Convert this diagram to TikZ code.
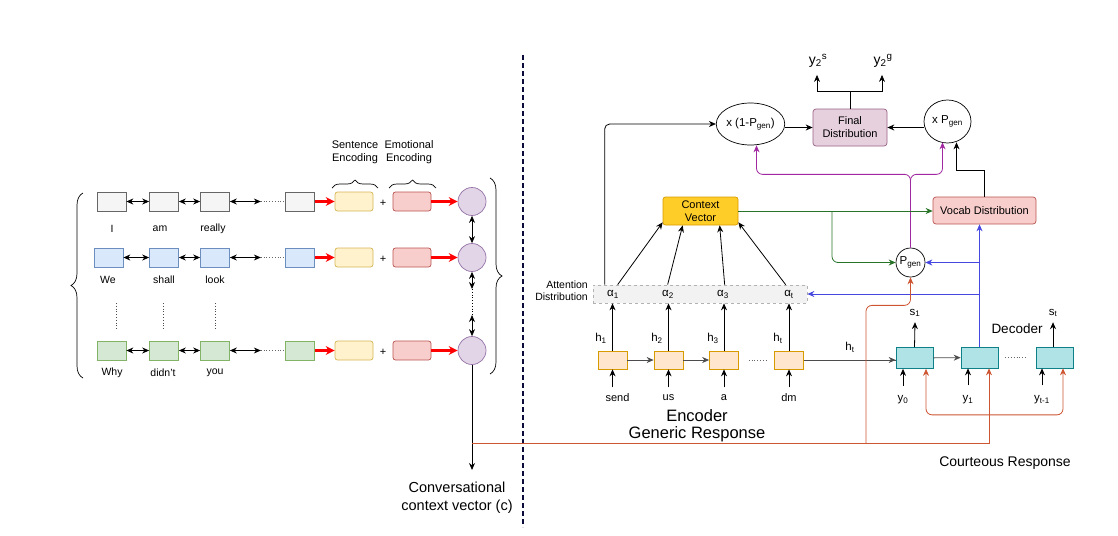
\documentclass[tikz,border=0pt]{standalone}
\usepackage{fontspec}
\setmainfont{Liberation Sans}
\usetikzlibrary{arrows.meta,decorations.pathreplacing,calc,shapes.geometric}
\definecolor{navy}{RGB}{12,12,60}
\definecolor{gfill}{HTML}{F5F5F5}\definecolor{gline}{HTML}{666666}
\definecolor{bfill}{HTML}{DAE8FC}\definecolor{bline}{HTML}{6C8EBF}
\definecolor{grfill}{HTML}{D5E8D4}\definecolor{grline}{HTML}{82B366}
\definecolor{yfill}{HTML}{FFF2CC}\definecolor{yline}{HTML}{D6B656}
\definecolor{rfill}{HTML}{F8CECC}\definecolor{rline}{HTML}{B85450}
\definecolor{pfill}{HTML}{E1D5E7}\definecolor{pline}{HTML}{9673A6}
\definecolor{efill}{HTML}{FFE6CC}\definecolor{eline}{HTML}{D79B00}
\definecolor{cfill}{HTML}{FFCD28}
\definecolor{ffill}{HTML}{E6D0DE}\definecolor{fline}{HTML}{996185}
\definecolor{dfill}{HTML}{B0E3E6}\definecolor{dline}{HTML}{0E8088}
\definecolor{redc}{RGB}{205,85,50}
\definecolor{purc}{RGB}{160,40,160}
\definecolor{grnc}{RGB}{40,115,40}
\definecolor{bluc}{RGB}{70,70,225}
\begin{document}
\begin{tikzpicture}[x=1pt,y=-1pt,
  every node/.style={inner sep=1pt, font=\fontsize{11}{13}\selectfont},
  wbox/.style={draw, minimum width=29pt, minimum height=19pt, inner sep=0pt, line width=0.7pt},
  gbox/.style={wbox, fill=gfill, draw=gline},
  bbox/.style={wbox, fill=bfill, draw=bline},
  grbox/.style={wbox, fill=grfill, draw=grline},
  ybox/.style={wbox, minimum width=38pt, rounded corners=2.5pt, fill=yfill, draw=yline},
  rbox/.style={wbox, minimum width=38pt, rounded corners=2.5pt, fill=rfill, draw=rline},
  pcirc/.style={circle, draw=pline, fill=pfill, minimum size=28pt, inner sep=0pt, line width=0.7pt},
  ebox/.style={draw=eline, fill=efill, minimum width=29pt, minimum height=18pt, inner sep=0pt, line width=0.7pt},
  dbox/.style={draw=dline, fill=dfill, minimum width=37pt, minimum height=21pt, inner sep=0pt, line width=0.7pt},
  lbl/.style={font=\fontsize{10.5}{12}\selectfont},
  sub/.style={font=\fontsize{11.5}{13}\selectfont},
  arr/.style={-{Stealth[length=7pt,width=6pt]}, line width=0.8pt},
  dbl/.style={{Stealth[length=7pt,width=6pt]}-{Stealth[length=7pt,width=6pt]}, line width=0.8pt},
  dotl/.style={dotted, line width=0.8pt, draw=gline},
  rarr/.style={arr, draw=redc},
  parr/.style={arr, draw=purc},
  garr/.style={arr, draw=grnc},
  barr/.style={arr, draw=bluc},
  brc/.style={decorate, decoration={brace, amplitude=#1}, line width=0.7pt}
]
\useasboundingbox (0,0) rectangle (1118,535);

% separator
\draw[navy, line width=2.6pt, dash pattern=on 5pt off 3pt] (523,55) -- (523,527);

% ---------------- left part ----------------
\node[gbox] (a1) at (111.5,201.5) {};
\node[gbox] (a2) at (164,201.5) {};
\node[gbox] (a3) at (215,201.5) {};
\node[gbox] (a4) at (300,201.5) {};
\node[ybox] (senA) at (354,201.5) {};
\node (ap) at (383,203) {+};
\node[rbox] (emoA) at (412,201.5) {};
\node[pcirc] (c1) at (472,201.5) {};
\node[bbox] (b1) at (108.5,257.5) {};
\node[bbox] (b2) at (164,257.5) {};
\node[bbox] (b3) at (215,257.5) {};
\node[bbox] (b4) at (300,257.5) {};
\node[ybox] (senB) at (354,257.5) {};
\node (bp) at (383,259) {+};
\node[rbox] (emoB) at (412,257.5) {};
\node[pcirc] (c2) at (472,257.5) {};
\node[grbox] (g1) at (111.5,350.5) {};
\node[grbox] (g2) at (164,350.5) {};
\node[grbox] (g3) at (215,350.5) {};
\node[grbox] (g4) at (300,350.5) {};
\node[ybox] (senC) at (354,350.5) {};
\node (gp) at (383,352) {+};
\node[rbox] (emoC) at (412,350.5) {};
\node[pcirc] (c3) at (472,350.5) {};

\draw[red, line width=3pt, -{Stealth[length=9pt,width=9pt]}] (a4.east) -- (senA.west);
\draw[red, line width=3pt, -{Stealth[length=9pt,width=9pt]}] (emoA.east) -- (c1.west);
\draw[red, line width=3pt, -{Stealth[length=9pt,width=9pt]}] (b4.east) -- (senB.west);
\draw[red, line width=3pt, -{Stealth[length=9pt,width=9pt]}] (emoB.east) -- (c2.west);
\draw[red, line width=3pt, -{Stealth[length=9pt,width=9pt]}] (g4.east) -- (senC.west);
\draw[red, line width=3pt, -{Stealth[length=9pt,width=9pt]}] (emoC.east) -- (c3.west);

\node[lbl] (wI) at (112,229) {I};
\node[lbl] (wam) at (160,229) {am};
\node[lbl] (wre) at (213,229) {really};
\node[lbl] (wwe) at (108,280) {We};
\node[lbl] (wsh) at (164,280) {shall};
\node[lbl] (wlo) at (215,280) {look};
\node[lbl] (wwh) at (112,373) {Why};
\node[lbl] (wdi) at (163,373) {didn't};
\node[lbl] (wyo) at (215,373) {you};

\draw[dotl, draw=black!70] (116,303) -- (116,330);
\draw[dotl, draw=black!70] (163,303) -- (163,330);
\draw[dotl, draw=black!70] (215,303) -- (215,330);

\draw[dbl] (a1) -- (a2);
\draw[dbl] (a2) -- (a3);
\coordinate (ad) at ($(a3.east)+(31,0)$);
\draw[dbl] (a3) -- (ad);
\draw[dotl] (ad) -- (a4);
\draw[dbl] (b1) -- (b2);
\draw[dbl] (b2) -- (b3);
\coordinate (bd) at ($(b3.east)+(31,0)$);
\draw[dbl] (b3) -- (bd);
\draw[dotl] (bd) -- (b4);
\draw[dbl] (g1) -- (g2);
\draw[dbl] (g2) -- (g3);
\coordinate (gd) at ($(g3.east)+(31,0)$);
\draw[dbl] (g3) -- (gd);
\draw[dotl] (gd) -- (g4);

\draw[dbl] (c1) -- (c2);
\coordinate (cd1) at (472,289);
\coordinate (cd2) at (472,315);
\draw[dbl] (c2) -- (cd1);
\draw[dotted, line width=0.8pt] (cd1) -- (cd2);
\draw[dbl] (cd2) -- (c3);
\coordinate (cvt) at (472,470);
\draw[arr] (c3) -- (cvt);
\node[font=\fontsize{14.5}{18}\selectfont, align=center, anchor=north] (cvl) at (457,481) {Conversational\\context vector (c)};

\draw[brc=8pt] (332,188) -- (378,188);
\draw[brc=8pt] (389,188) -- (436,188);
\node[align=center, anchor=south] (se) at (355,165) {Sentence\\Encoding};
\node[align=center, anchor=south] (ee) at (409,165) {Emotional\\Encoding};
\draw[brc=12pt] (83,378) -- (83,193);
\draw[brc=12pt] (490,178) -- (490,374);

% ---------------- right part ----------------
\node[draw=black!30, dashed, fill=black!5, minimum width=214pt, minimum height=18pt, inner sep=0pt, line width=0.7pt] (att) at (700,294) {};
\node[align=right, anchor=east, font=\fontsize{10.5}{12}\selectfont] (attl) at (589,291) {Attention\\Distribution};
\node[sub] (al1) at (613,294.5) {α\textsubscript{1}};
\node[sub] (al2) at (668,294.5) {α\textsubscript{2}};
\node[sub] (al3) at (723,294.5) {α\textsubscript{3}};
\node[sub] (alt) at (789,294.5) {α\textsubscript{t}};

\node[ebox] (e1) at (612.5,360) {};
\node[ebox] (e2) at (668.5,360) {};
\node[ebox] (e3) at (724,360) {};
\node[ebox] (e4) at (789,360) {};
\draw[arr, draw=black!70] (e1) -- (e2);
\draw[arr, draw=black!70] (e2) -- (e3);
\draw[dotl] ($(e3.east)+(10,0)$) -- ($(e4.west)+(-8,0)$);
\foreach \i in {1,2,3,4}{ \draw[arr] (e\i.north) -- (e\i.north |- att.south); }
\node[sub] (h1) at (601,338) {h\textsubscript{1}};
\node[sub] (h2) at (657,338) {h\textsubscript{2}};
\node[sub] (h3) at (713,338) {h\textsubscript{3}};
\node[sub] (h4) at (778,338) {h\textsubscript{t}};
\node (ws) at (617.5,398) {send};
\node (wu) at (668.5,398) {us};
\node (wa) at (724,398) {a};
\node (wd) at (789,398) {dm};
\foreach \i in {1,2,3,4}{ \draw[arr] ($(e\i.south)+(0,18)$) -- (e\i.south); }
\node[align=center, font=\fontsize{16.5}{17}\selectfont] (enc) at (697,425.5) {Encoder\\Generic Response};

\node[draw=eline, fill=cfill, rounded corners=2.5pt, minimum width=75pt, minimum height=28pt, align=center, inner sep=0pt, line width=0.7pt, font=\fontsize{11}{12.5}\selectfont] (ctx) at (700.5,211) {Context\\Vector};
\draw[arr] ($(att.north west)+(25,0)$) -- ($(ctx.south west)+(0,-3)$);
\draw[arr] ($(att.north west)+(75,0)$) -- ($(ctx.south west)+(20,0)$);
\draw[arr] ($(att.north west)+(132,0)$) -- ($(ctx.south west)+(57,0)$);
\draw[arr] ($(att.north west)+(193,0)$) -- ($(ctx.south east)+(0,-3)$);

\node[ellipse, draw, minimum width=61pt, minimum height=42pt, inner sep=0pt, line width=0.7pt, sub] (om) at (750.5,124) {x (1-P\textsubscript{gen})};
\node[draw=fline, fill=ffill, rounded corners=3pt, minimum width=74pt, minimum height=37pt, align=center, inner sep=0pt, line width=0.7pt] (fin) at (850,127.5) {Final\\Distribution};
\node[ellipse, draw, minimum width=47pt, minimum height=43pt, inner sep=0pt, line width=0.7pt, sub] (xp) at (947.5,121.5) {x P\textsubscript{gen}};
\draw[arr, rounded corners=5pt] ($(att.north west)+(12,0)$) |- (om.west);
\draw[arr] (om.east |- fin) -- (fin.west);
\draw[arr] (xp.west |- fin) -- (fin.east);
\node[font=\fontsize{14}{15}\selectfont] (ys) at (818,61) {y\textsubscript{2}\textsuperscript{s}};
\node[font=\fontsize{14}{15}\selectfont] (yg) at (883,61) {y\textsubscript{2}\textsuperscript{g}};
\coordinate (fj) at (850,91);
\draw[line width=0.8pt] (fin.north) -- (fj);
\draw[arr] (fj) -| ($(ys.south)+(-1,6)$);
\draw[arr] (fj) -| ($(yg.south)+(-1,6)$);

\node[draw=rline, fill=rfill, rounded corners=3pt, minimum width=103pt, minimum height=27pt, inner sep=0pt, line width=0.7pt] (voc) at (984.5,210.5) {Vocab Distribution};
\draw[arr] (voc.north) |- ($(xp.south)+(9,27)$) -- ($(xp.south)+(9,-1)$);

\node[circle, draw, minimum size=29pt, inner sep=0pt, line width=0.7pt, sub] (pg) at (910.5,262.5) {P\textsubscript{gen}};
\draw[parr, rounded corners=6pt] (pg.north) |- ($(om.south)+(6,29)$) -- ($(om.south)+(6,0)$);
\draw[parr, rounded corners=6pt] (pg.north) |- ($(xp.south)+(-5,31)$) -- ($(xp.south)+(-5,-1)$);

\draw[garr] (ctx.east) -- (ctx.east -| voc.west);
\coordinate (gb) at (832,211);
\draw[garr, rounded corners=6pt] (gb) |- (pg.west);

\node[dbox] (d1) at (914.5,358) {};
\node[dbox] (d2) at (979.5,357.5) {};
\node[dbox] (d3) at (1054.5,357.5) {};
\draw[line width=0.8pt, draw=black!70] (e4.east) -- (e4.east -| d1.west);
\draw[arr, draw=black!70] ($(e4.east)!0.9!(e4.east -| d1.west)$) -- (e4.east -| d1.west);
\node[sub] (hto) at (850,347) {h\textsubscript{t}};
\draw[arr, draw=black!70] (d1) -- (d2);
\draw[dotl] ($(d2.east)+(7,0)$) -- ($(d3.west)+(-8,0)$);
\node[sub] (s1) at (915,313) {s\textsubscript{1}};
\node[sub] (st) at (1053,313) {s\textsubscript{t}};
\draw[arr] (d1.north) -- ($(s1.south)+(0,4)$);
\draw[arr] (st.south |- d3.north) -- ($(st.south)+(0,4)$);
\node[font=\fontsize{13.5}{15}\selectfont] (dec) at (1017,329) {Decoder};
\node[sub] (y0) at (903,400) {y\textsubscript{0}};
\node[sub] (y1) at (968,400) {y\textsubscript{1}};
\node[sub] (yt) at (1042,400) {y\textsubscript{t-1}};
\draw[arr] ($(d1.south)+(-11.5,17)$) -- ($(d1.south)+(-11.5,0)$);
\draw[arr] ($(d2.south)+(-11.5,17)$) -- ($(d2.south)+(-11.5,0)$);
\draw[arr] ($(d3.south)+(-12.5,17)$) -- ($(d3.south)+(-12.5,0)$);
\node[font=\fontsize{14}{16}\selectfont] (cr) at (1005,463) {Courteous Response};

\draw[barr] (d2.north) -- (d2.north |- voc.south);
\draw[barr] (d2.north |- pg) -- (pg.east);
\draw[barr] (d2.north |- att.east) -- (att.east);

\draw[redc, {Stealth[length=7pt,width=6pt]}-{Stealth[length=7pt,width=6pt]}, line width=0.8pt, rounded corners=6pt] ($(d1.south)+(11.5,0)$) -- ++(0,46) -| ($(d3.south)+(8.5,0)$);
\coordinate (jn) at (c3 |- 0,443);
\draw[rarr] (jn) -| ($(d2.south)+(9.5,0)$);
\coordinate (kn) at (866,443);
\draw[rarr, rounded corners=6pt] (kn) |- ($(pg.south)+(0,28)$) -- (pg.south);
\end{tikzpicture}
\end{document}
